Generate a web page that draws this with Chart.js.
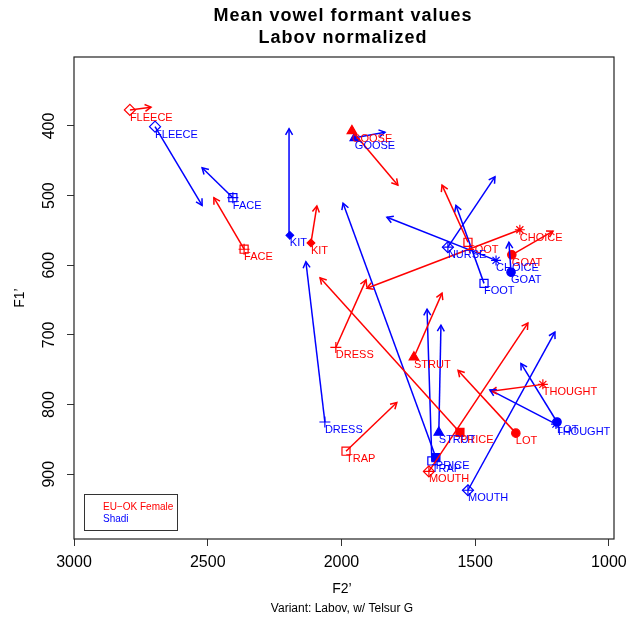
<!DOCTYPE html>
<html>
<head>
<meta charset="utf-8">
<script src="https://cdn.jsdelivr.net/npm/chart.js@4.4.0/dist/chart.umd.min.js"></script>
<style>
html,body{margin:0;padding:0;background:#fff;}
</style>
</head>
<body>
<canvas id="formants" width="628" height="622"></canvas>
<script>

const redName = "EU\u2212OK Female";
const blueName = "Shadi";

const redVowels = ["FLEECE","FACE","KIT","GOOSE","FOOT","CHOICE","GOAT","DRESS","STRUT","PRICE","THOUGHT","LOT","TRAP","MOUTH"];
const redF2 = [2791,2364,2114,1961,1527,1333,1363,2021,1729,1557,1247,1348,1983,1673];
const redF1 = [377,577,568,407,567,549,585,718,732,840,771,841,867,896];
const redF2End = [2712,2477,2092,1789,1624,1905,1209,1908,1624,2080,1441,1564,1793,1303];
const redF1End = [373,503,515,485,485,633,551,621,640,618,781,751,797,683];

const blueVowels = ["FLEECE","FACE","KIT","GOOSE","NURSE","CHOICE","GOAT","FOOT","DRESS","STRUT","PRICE","TRAP","MOUTH","LOT","THOUGHT"];
const blueF2 = [2697,2406,2193,1950,1602,1422,1366,1467,2062,1636,1647,1662,1527,1194,1198];
const blueF1 = [401,503,557,417,574,593,610,626,825,840,876,881,923,825,828];
const blueF2End = [2521,2521,2196,1837,1426,1830,1374,1572,2133,1628,1994,1680,1202,1329,1445];
const blueF1End = [514,460,404,409,473,531,567,514,595,686,511,663,696,741,779];

const xTicks = [1000,1500,2000,2500,3000];
const yTicks = [400,500,600,700,800,900];

// R pch used for each vowel
const pchOf = {
FLEECE:5, FACE:12, KIT:18, GOOSE:17, FOOT:0, CHOICE:8, GOAT:16, DRESS:3,
STRUT:17, PRICE:15, THOUGHT:8, LOT:16, TRAP:0, MOUTH:9, NURSE:9
};

const RED = "#ff0000";
const BLUE = "#0000ff";

function markerStyle(pch){
switch(pch){
case 0: return {style:"rect", r:5.7, fill:false};
case 3: return {style:"cross", r:5.5, fill:false};
case 5: return {style:"rectRot", r:5.5, fill:false};
case 8: return {style:"star", r:5, fill:false};
case 9: return {style:"rectRot", r:5.5, fill:false, plus:true};
case 12: return {style:"rect", r:5.7, fill:false, plus:true};
case 15: return {style:"rect", r:5.7, fill:true};
case 16: return {style:"circle", r:4.2, fill:true};
case 17: return {style:"triangle", r:5.5, fill:true};
case 18: return {style:"rectRot", r:3.8, fill:true};
}
}

function pointSet(vowels, f2, f1, color){
const m = vowels.map(v => markerStyle(pchOf[v]));
return {
label: "pts",
data: vowels.map((v,i) => ({x:f2[i], y:f1[i]})),
pointStyle: m.map(s => s.style),
pointRadius: m.map(s => s.r),
pointBackgroundColor: m.map(s => s.fill ? color : "rgba(0,0,0,0)"),
pointBorderColor: color,
pointBorderWidth: 1.2,
showLine: false,
labels: vowels,
labelColor: color
};
}

function plusSet(vowels, f2, f1, color){
const pts = [];
vowels.forEach((v,i) => {
const s = markerStyle(pchOf[v]);
if (s.plus) pts.push({x:f2[i], y:f1[i]});
});
return {
label: "plus",
data: pts,
pointStyle: "cross",
pointRadius: 5.5,
pointBorderColor: color,
pointBorderWidth: 1.2,
showLine: false
};
}

function arrowSets(vowels, f2, f1, f2e, f1e, color){
return vowels.map((v,i) => ({
label: "arrow",
data: [{x:f2[i], y:f1[i]}, {x:f2e[i], y:f1e[i]}],
showLine: true,
borderColor: color,
borderWidth: 1.5,
pointRadius: 0,
arrowHead: true
}));
}

const datasets = [].concat(
arrowSets(redVowels, redF2, redF1, redF2End, redF1End, RED),
arrowSets(blueVowels, blueF2, blueF1, blueF2End, blueF1End, BLUE),
[pointSet(redVowels, redF2, redF1, RED), plusSet(redVowels, redF2, redF1, RED)],
[pointSet(blueVowels, blueF2, blueF1, BLUE), plusSet(blueVowels, blueF2, blueF1, BLUE)]
);

const decorations = {
id: "decorations",
afterDatasetsDraw(chart){
const ctx = chart.ctx;
ctx.save();
chart.data.datasets.forEach((ds, di) => {
const meta = chart.getDatasetMeta(di);
if (ds.arrowHead){
const a = meta.data[0], b = meta.data[1];
const ang = Math.atan2(b.y - a.y, b.x - a.x);
const len = 7, spread = Math.PI / 6;
ctx.strokeStyle = ds.borderColor;
ctx.lineWidth = 1.5;
ctx.beginPath();
ctx.moveTo(b.x - len * Math.cos(ang - spread), b.y - len * Math.sin(ang - spread));
ctx.lineTo(b.x, b.y);
ctx.lineTo(b.x - len * Math.cos(ang + spread), b.y - len * Math.sin(ang + spread));
ctx.stroke();
}
if (ds.labels){
ctx.fillStyle = ds.labelColor;
ctx.font = "11px 'Liberation Sans', Arial, sans-serif";
ctx.textAlign = "left";
ctx.textBaseline = "middle";
ds.labels.forEach((t, i) => {
const p = meta.data[i];
ctx.fillText(t, p.x, p.y + 8);
});
}
});
ctx.restore();
},
afterDraw(chart){
const ctx = chart.ctx;
const a = chart.chartArea;
ctx.save();
ctx.strokeStyle = "#222";
ctx.lineWidth = 1.2;
ctx.strokeRect(a.left, a.top, a.right - a.left, a.bottom - a.top);

ctx.fillStyle = "#000";
ctx.textAlign = "center";
ctx.textBaseline = "middle";
ctx.font = "bold 18px 'Liberation Sans', Arial, sans-serif";
ctx.letterSpacing = "1px";
ctx.fillText("Mean vowel formant values", 343, 16);
ctx.fillText("Labov normalized", 343, 38);
ctx.letterSpacing = "0px";

ctx.font = "14px 'Liberation Sans', Arial, sans-serif";
ctx.fillText("F2\u2019", 342, 589);
ctx.save();
ctx.translate(20, 298);
ctx.rotate(-Math.PI / 2);
ctx.fillText("F1\u2019", 0, 0);
ctx.restore();

ctx.font = "12px 'Liberation Sans', Arial, sans-serif";
ctx.fillText("Variant: Labov, w/ Telsur G", 342, 609);

// legend box, bottom left
const lx = a.left + 10, ly = a.bottom - 45;
ctx.strokeStyle = "#333";
ctx.lineWidth = 1;
ctx.strokeRect(lx + 0.5, ly + 0.5, 93, 36);
ctx.textAlign = "left";
ctx.font = "10px 'Liberation Sans', Arial, sans-serif";
ctx.fillStyle = RED;
ctx.fillText(redName, lx + 19, ly + 13);
ctx.fillStyle = BLUE;
ctx.fillText(blueName, lx + 19, ly + 25);
ctx.restore();
}
};

new Chart(

document.getElementById("formants"),

{

type: "scatter",

data: { datasets: datasets },

options: {

responsive: false,

animation: false,

events: [],

layout: { padding: { top: 57, right: 14, left: 0, bottom: 0 } },

plugins: {
legend: { display: false },
tooltip: { enabled: false }
},

scales: {

x: {
type: "linear",
reverse: true,
min: 981,
max: 3000,
afterFit(s){ s.height = 83; },
afterBuildTicks(s){ s.ticks = xTicks.map(v => ({value: v})); },
border: { display: false },
grid: { drawOnChartArea: false, drawTicks: true, tickLength: 7, color: "#333" },
ticks: {
includeBounds: false,
padding: 7,
color: "#000",
callback: v => String(v),
font: { family: "'Liberation Sans', Arial, sans-serif", size: 16 }
}
},

y: {
type: "linear",
reverse: true,
min: 301,
max: 993,
afterFit(s){ s.width = 74; },
afterBuildTicks(s){ s.ticks = yTicks.map(v => ({value: v})); },
border: { display: false },
grid: { drawOnChartArea: false, drawTicks: true, tickLength: 7, color: "#333" },
ticks: {
includeBounds: false,
minRotation: 90,
maxRotation: 90,
crossAlign: "center",
padding: 4,
color: "#000",
callback: v => String(v),
font: { family: "'Liberation Sans', Arial, sans-serif", size: 16 }
}
}

}

},

plugins: [decorations]

});

</script>
</body>
</html>
